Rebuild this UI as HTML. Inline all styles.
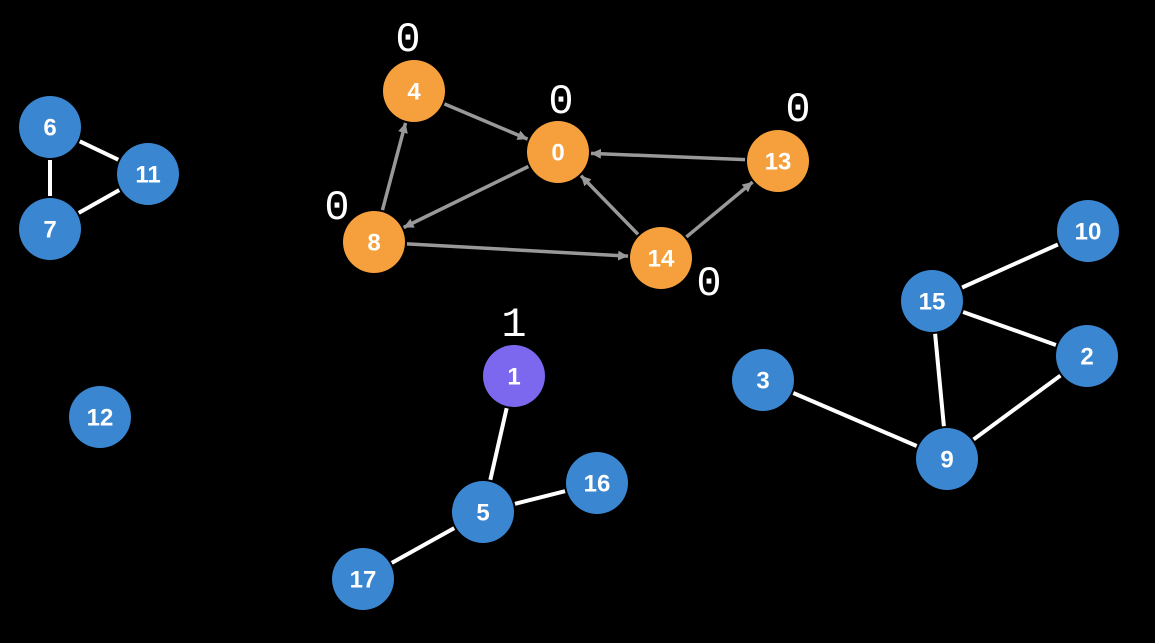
<!DOCTYPE html>
<html><head><style>
html,body{margin:0;padding:0;background:#000;width:1155px;height:643px;overflow:hidden}
svg{display:block}
.n{font-family:"Liberation Sans",sans-serif;font-weight:bold;font-size:24px;fill:#fff;text-anchor:middle;dominant-baseline:central}
.l{font-family:"Liberation Mono","DejaVu Sans Mono",monospace;font-size:42px;fill:#fff;text-anchor:middle}
</style></head><body>
<svg id="s" width="1155" height="643" viewBox="0 0 1155 643" xmlns="http://www.w3.org/2000/svg">
<defs><marker id="a" markerWidth="10" markerHeight="10" refX="10" refY="5" orient="auto" markerUnits="userSpaceOnUse" viewBox="0 0 10 10"><path d="M0,0L10,5L0,10z" fill="#999"/></marker>
</defs>
<g id="e"></g><g id="nodes"></g>
<text class="l" x="408" y="51">0</text>
<text class="l" x="561" y="113">0</text>
<text class="l" x="337" y="219">0</text>
<text class="l" x="798" y="121">0</text>
<text class="l" x="709" y="295">0</text>
<text class="l" x="514" y="336">1</text>
</svg>
<script>
var N={6:[50,127],11:[148,174],7:[50,229],12:[100,417],4:[414,91],0:[558,152],13:[778,161],8:[374,242],14:[661,258],1:[514,376],5:[483,512],16:[597,483],17:[363,579],3:[763,380],15:[932,301],10:[1088,231],2:[1087,356],9:[947,459]};
var C={4:'#f5a03c',0:'#f5a03c',13:'#f5a03c',8:'#f5a03c',14:'#f5a03c',1:'#7b68ee'};
var U=[[6,11],[6,7],[7,11],[1,5],[5,16],[5,17],[15,10],[15,2],[15,9],[2,9],[3,9]];
var D=[[4,0],[13,0],[14,0],[0,8],[8,4],[8,14],[14,13]];
var ns="http://www.w3.org/2000/svg",E=document.getElementById('e'),G=document.getElementById('nodes'),R=31;
function ln(a,b,col,w,arr){var p=N[a],q=N[b],dx=q[0]-p[0],dy=q[1]-p[1],d=Math.hypot(dx,dy),ux=dx/d,uy=dy/d;
var l=document.createElementNS(ns,'line');l.setAttribute('x1',p[0]+ux*(R+2));l.setAttribute('y1',p[1]+uy*(R+2));
l.setAttribute('x2',q[0]-ux*(R+2));l.setAttribute('y2',q[1]-uy*(R+2));l.setAttribute('stroke',col);l.setAttribute('stroke-width',w);
if(arr)l.setAttribute('marker-end','url(#a)');E.appendChild(l);}
U.forEach(function(x){ln(x[0],x[1],'#fff',4,0)});
D.forEach(function(x){ln(x[0],x[1],'#999',3.5,1)});
for(var k in N){var c=document.createElementNS(ns,'circle');c.setAttribute('cx',N[k][0]);c.setAttribute('cy',N[k][1]);c.setAttribute('r',R);c.setAttribute('fill',C[k]||'#3a86d0');G.appendChild(c);
var t=document.createElementNS(ns,'text');t.setAttribute('class','n');t.setAttribute('x',N[k][0]);t.setAttribute('y',N[k][1]+1);t.textContent=k;G.appendChild(t);}
</script>
</body></html>
